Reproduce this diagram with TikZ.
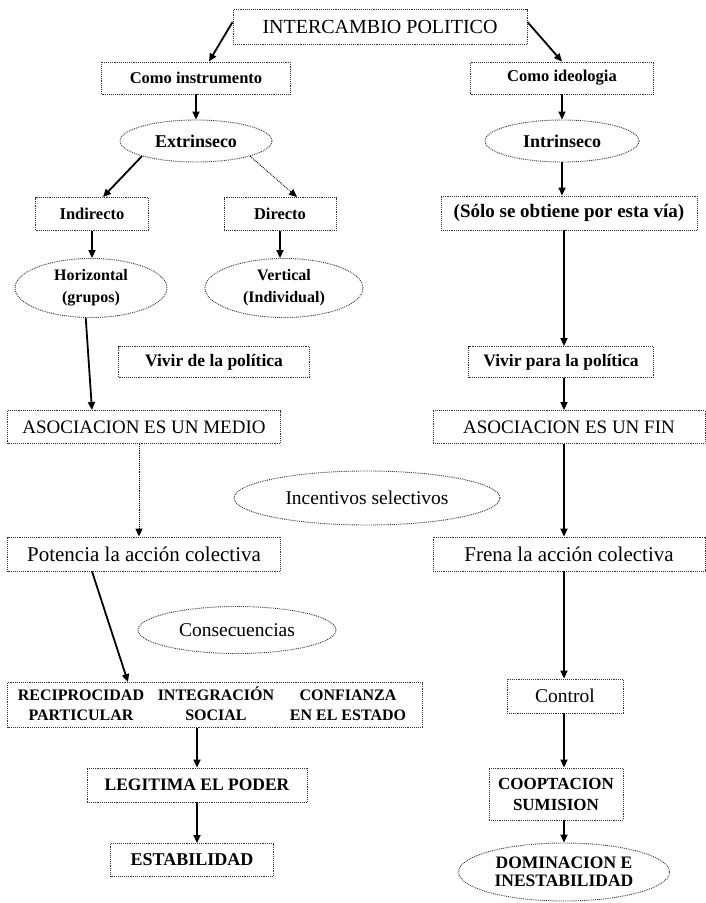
\documentclass[tikz,border=0pt]{standalone}
\usepackage{fontspec}
\setmainfont{Liberation Serif}
\usetikzlibrary{shapes.geometric,arrows.meta,calc}
\begin{document}
\begin{tikzpicture}[x=1pt,y=-1pt,
  bx/.style={draw=black!80, densely dotted, line width=0.9pt, inner sep=0pt, align=center, text=black},
  el/.style={bx, ellipse},
  fr/.style={font=\fontsize{#1}{#1}\selectfont},
  fb/.style={font=\fontsize{#1}{#1}\selectfont\bfseries},
  arr/.style={draw=black, solid, line width=1.8pt, -{Triangle[length=8pt,width=7pt]}},
  darr/.style={draw=black, line width=0.9pt, densely dotted, -{Triangle[length=8pt,width=7pt]}}]
\useasboundingbox (0,0) rectangle (705,903);
\fill[white] (0,0) rectangle (705,903);
\coordinate (rc) at (564,0);

\node[bx,fr=20,minimum width=294pt,minimum height=35pt] (title) at (380,27) {INTERCAMBIO POLITICO};
\node[bx,fb=16.5,minimum width=189pt,minimum height=32pt] (ci) at (196,78) {Como instrumento};
\node[bx,fb=16.5,minimum width=183pt,minimum height=32pt] (cid) at (562,78) {Como ideologia};
\node[el,fb=18,minimum width=152pt,minimum height=42pt] (ext) at (196,141) {Extrinseco};
\node[el,fb=18,minimum width=154pt,minimum height=42pt] (int) at (562,141) {Intrinseco};
\node[bx,fb=16.5,minimum width=113pt,minimum height=33pt] (ind) at (92,214) {Indirecto};
\node[bx,fb=16.5,minimum width=112pt,minimum height=33pt] (dir) at (280,214) {Directo};
\node[bx,fb=19,minimum width=256pt,minimum height=34pt] (solo) at (569,213) {(Sólo se obtiene por esta vía)};
\node[el,fb=16,minimum width=152pt,minimum height=59pt] (hor) at (91,288) {Horizontal\\[6pt](grupos)};
\node[el,fb=16,minimum width=158pt,minimum height=59pt] (ver) at (284,288) {Vertical\\[6pt](Individual)};
\node[bx,fb=17.5,minimum width=191pt,minimum height=31pt] (vde) at (214,362) {Vivir de la política};
\node[bx,fb=17.5,minimum width=185pt,minimum height=31pt] (vpara) at (561,362) {Vivir para la política};
\node[bx,fr=19,minimum width=273pt,minimum height=33pt] (amed) at (144,427) {ASOCIACION ES UN MEDIO};
\node[bx,fr=19,minimum width=272pt,minimum height=33pt] (afin) at (569,427) {ASOCIACION ES UN FIN};
\node[el,fr=19.5,minimum width=266pt,minimum height=54pt] (inc) at (367,498) {Incentivos selectivos};
\node[bx,fr=21,minimum width=273pt,minimum height=34pt] (pot) at (144,554) {Potencia la acción colectiva};
\node[bx,fr=21,minimum width=272pt,minimum height=34pt] (fre) at (569,554) {Frena la acción colectiva};
\node[el,fr=19.5,minimum width=198pt,minimum height=47pt] (con) at (237,630) {Consecuencias};
\node[bx,minimum width=415pt,minimum height=45pt] (rec) at (215,705) {};
\node[fb=16,align=center,inner sep=0pt] (r1) at (81,704) {RECIPROCIDAD\vphantom{Ó}\\[4pt]PARTICULAR};
\node[fb=16,align=center,inner sep=0pt] (r2) at (216,704) {INTEGRACIÓN\\[4pt]SOCIAL};
\node[fb=16,align=center,inner sep=0pt] (r3) at (348,704) {CONFIANZA\vphantom{Ó}\\[4pt]EN EL ESTADO};
\node[bx,fr=19.5,minimum width=116pt,minimum height=34pt] (ctl) at (565,696) {Control};
\node[bx,fb=17.5,minimum width=220pt,minimum height=34pt] (leg) at (197,785) {LEGITIMA EL PODER};
\node[bx,fb=17,minimum width=134pt,minimum height=52pt] (coop) at (556,794) {COOPTACION\\[4pt]SUMISION};
\node[bx,fb=18,minimum width=163pt,minimum height=33pt] (est) at (192,860) {ESTABILIDAD};
\node[el,fb=17.5,minimum width=211pt,minimum height=58pt] (dom) at (564,872) {DOMINACION E\\[1pt]INESTABILIDAD};

% connectors
\draw[arr] ([yshift=5pt]title.west) -- ([xshift=13pt]ci.north);
\draw[arr] ([yshift=5pt]title.east) -- (cid.north);
\draw[arr] (ci.south) -- (ext.north);
\draw[arr] (cid.south) -- (int.north);
\draw[arr] (ext.south west) -- ([xshift=11pt]ind.north);
\draw[darr] (ext.south east) -- ([xshift=17pt]dir.north);
\draw[arr] (ind.south) -- (ind.south |- hor.north);
\draw[arr] (dir.south) -- (dir.south |- ver.north);
\draw[arr] (int.south) -- (int.south |- solo.north);
\draw[arr] (solo.south -| rc) -- (vpara.north -| rc);
\draw[arr] (hor.-100) -- ([xshift=-52pt]amed.north);
\draw[darr] ([xshift=-5pt]amed.south) -- ([xshift=-5pt]pot.north);
\draw[arr] (vpara.south -| rc) -- (afin.north -| rc);
\draw[arr] (afin.south -| rc) -- (fre.north -| rc);
\draw[arr] ([xshift=-52pt]pot.south) -- ([xshift=-87pt]rec.north);
\draw[arr] (fre.south -| rc) -- (ctl.north -| rc);
\draw[arr] (rec.south -| leg.north) -- (leg.north);
\draw[arr] (leg.south) -- (leg.south |- est.north);
\draw[arr] (ctl.south -| rc) -- (coop.north -| rc);
\draw[arr] (coop.south -| rc) -- (dom.north -| rc);
\end{tikzpicture}
\end{document}
